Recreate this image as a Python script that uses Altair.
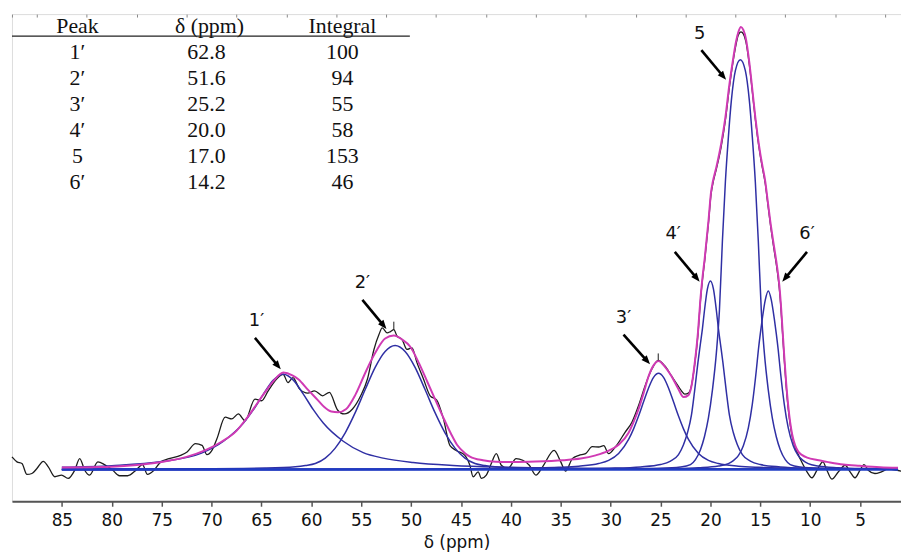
import math
import altair as alt
import pandas as pd

# ---------------- data ----------------
# experimental 13C spectrum (black trace): chemical shift (ppm) / intensity (a.u.)
exp_ppm = [90.0, 89.5, 89.0, 88.5, 88.0, 87.5, 86.86, 86.36, 85.7, 85.03, 84.37, 83.71, 83.21, 82.71,
           82.22, 81.39, 80.73, 79.9, 79.23, 78.41, 77.57, 76.92, 76.42, 75.76, 75.09, 74.26, 73.1,
           72.45, 71.61, 70.95, 70.46, 69.96, 69.46, 68.63, 67.97, 67.31, 66.64, 65.65, 64.99, 64.32,
           63.5, 62.83, 62.34, 61.84, 61.17, 60.35, 59.68, 58.86, 58.19, 57.37, 56.7, 55.87, 55.05,
           54.38, 53.72, 53.22, 52.89, 52.4, 52.07, 51.73, 51.4, 50.9, 50.41, 49.91, 49.41, 48.75,
           48.09, 47.43, 46.76, 46.1, 45.44, 44.61, 44.11, 43.78, 43.28, 42.95, 42.46, 41.96, 41.46,
           40.96, 40.3, 39.47, 38.81, 38.15, 37.49, 36.82, 35.66, 35.0, 34.5, 33.84, 33.18, 32.51,
           31.85, 31.19, 30.69, 30.2, 29.53, 28.54, 27.87, 27.21, 26.55, 25.88, 25.23, 24.56, 23.9,
           23.24, 22.9, 22.57, 22.2, 21.91, 21.6, 21.25, 21.0, 20.8, 20.58, 20.2, 19.93, 19.76, 19.4,
           18.93, 18.5, 18.1, 17.75, 17.44, 17.2, 16.94, 16.7, 16.44, 16.1, 15.78, 15.5, 15.29, 15.0,
           14.79, 14.5, 14.3, 14.0, 13.63, 13.3, 13.1, 12.95, 12.8, 12.6, 12.4, 12.2, 12.0, 11.8,
           11.5, 11.2, 10.97, 10.32, 9.82, 9.32, 8.73, 8.33, 7.83, 7.17, 6.5, 6.0, 5.51, 5.01, 4.61,
           4.18, 3.52, 2.86, 2.2, 1.37, 0.88]
exp_int = [12.7, 7.7, 6, -5, -4, 1, 8.3, 2.7, -7.3, -5.7, -9, -0.7, 11, -0.7,
           -5.7, 7.7, 5, -0.7, -6.3, -6.3, -0.7, 5, -5, -0.7, 7.7, 11, 14.3,
           17.7, 26, 24.3, 15, 19.3, 31, 52.7, 51, 56, 49.3, 71, 69.3, 79.3,
           91, 96, 87.7, 92.7, 81, 77, 79.3, 74.3, 77.7, 60, 56, 61, 74.3,
           91, 121, 136, 142.7, 137.7, 139, 141, 134.3, 131, 121, 122.7, 107.7, 91,
           74.3, 70, 51, 24, 19, 14.3, 4.3, -7.3, -2.3, -9, -5.7, 6, 16,
           4.3, 1, 11, 9.3, 4.3, -5.7, 2.7, 19.3, 7.7, -1.5, 11, 14.3, 16,
           23, 22.7, 24, 16, 22.7, 37.7, 47.7, 64.3, 84.3, 101, 110, 104.3, 94.3,
           84.3, 79.3, 76, 77, 84, 104, 136, 170, 191, 210, 248, 278, 288, 303,
           325, 352, 385, 410, 428, 438, 441, 439, 431, 408, 379, 353, 336, 316,
           304, 288, 272, 248, 222, 200, 183, 165, 142, 111, 83, 61, 45, 33,
           22, 15, 10, -2.3, -8.3, -0.7, 7.7, -0.7, -9.7, -2.3, 4.3, -2.3, -8.3, -0.7, 5,
           -0.7, -4, -2.3, 0.3, -0.7, -1.7]

# deconvolution components (blue)
c1_ppm = [85, 80, 75, 71, 68.8, 66.8, 65.8, 64.8, 63.8, 62.8, 61.8, 60.8, 59.8, 58.8, 56.8,
          54.8, 52.8, 49.8, 45.8, 40.8, 32.8, 17.8, 1.2]
c1_int = [2.3, 3.9, 8.0, 16.5, 28.5, 46.8, 60.3, 76.0, 90.1, 96, 90.1, 76.0, 60.3, 46.8, 28.5,
          17.0, 11.5, 7.0, 4.0, 2.3, 1.3, 0.6, 0.35]

c2_ppm = [85, 71.6, 64.6, 61.6, 60.6, 59.6, 58.6, 57.6, 56.6, 55.6, 54.6, 53.6, 52.6, 51.6,
          50.6, 49.6, 48.6, 47.6, 46.6, 45.6, 44.6, 43.6, 42.6, 41.6, 38.6, 31.6, 1.2]
c2_int = [0.35, 0.7, 1.5, 2.8, 4, 6, 11.5, 21.6, 37, 57.3, 80.6, 103, 119, 125,
          119, 103, 80.6, 57.3, 37, 21.6, 11.5, 6, 4, 2.8, 1.5, 0.7, 0.2]

c3_ppm = [85, 50.2, 40.2, 35.2, 33.2, 31.2, 30.2, 29.2, 28.2, 27.7, 27.2, 26.7, 26.2, 25.7,
          25.2, 24.7, 24.2, 23.7, 23.2, 22.7, 22.2, 21.2, 20.2, 19.2, 17.2, 15.2, 10.2, 1.2]
c3_int = [0.1, 0.4, 1.0, 2.2, 3.4, 6.0, 9.2, 16.2, 30.3, 41, 53.9, 68.2, 82.2, 92.9,
          97, 92.9, 82.2, 68.2, 53.9, 41, 30.3, 16.2, 9.2, 6.0, 3.4, 2.2, 1.0, 0.45]

c4_ppm = [85, 50, 35, 30, 27, 25, 24, 23.2, 22.7, 22.3, 21.9, 21.6, 21.25, 21.0, 20.8, 20.6,
          20.3, 20.0, 19.7, 19.4, 19.2, 19.0, 18.75, 18.4, 18.1, 17.7, 17.3, 16.8, 16.0, 15.0,
          13.0, 10.0, 5.0, 1.2]
c4_int = [0.05, 0.2, 0.6, 1.3, 2.6, 5, 8.5, 15, 25, 37, 55, 78, 108, 127, 142, 160,
          182, 190, 182, 160, 142, 127, 108, 78, 55, 37, 25, 15, 8.5, 5,
          2.6, 1.3, 0.6, 0.45]

c5_ppm = [85, 57, 37, 29, 25, 23, 22, 21.5, 21, 20.6, 20.2, 19.8, 19.4, 19.1, 18.8, 18.5, 18.2,
          17.9, 17.5, 17.0, 16.5, 16.1, 15.8, 15.5, 15.2, 14.9, 14.6, 14.2, 13.8, 13.4, 13.0,
          12.5, 12.0, 11.0, 9.0, 5.0, 1.2]
c5_int = [0.05, 0.1, 0.3, 0.6, 1.2, 2.5, 5, 10, 20, 33, 52, 80, 118, 160, 230, 290, 335,
          372, 402, 413, 402, 372, 335, 290, 230, 160, 118, 80, 52, 33, 20,
          10, 5, 2.5, 1.2, 0.6, 0.4]

c6_ppm = [85, 34.2, 27.2, 24.2, 21.2, 19.2, 18.2, 17.7, 17.2, 16.7, 16.2, 15.8, 15.4, 15.2,
          15.0, 14.8, 14.5, 14.2, 13.9, 13.6, 13.4, 13.2, 13.0, 12.6, 12.2, 11.7, 11.2, 10.7,
          10.2, 9.2, 7.2, 4.2, 1.2]
c6_int = [0.02, 0.24, 0.56, 0.94, 1.9, 3.6, 6, 9, 14, 24, 42, 66, 100, 120,
          137, 152, 171, 180, 171, 152, 137, 120, 100, 66, 42, 24, 14, 9,
          6, 3.6, 1.9, 0.94, 0.56]

# total fitted envelope (magenta)
fit_ppm = [85, 82, 80, 77.5, 75, 72.5, 70.6, 69, 67.5, 66.6, 65.6, 64.65, 63.8, 62.8, 61.9,
           61.3, 60.3, 59.35, 58.7, 58.0, 57.3, 56.5, 55.6, 54.7, 54.0, 53.4, 52.6, 51.73, 50.9,
           50.1, 49.2, 48.4, 47.6, 46.8, 46.0, 45.4, 44.6, 44.1, 42.8, 41.5, 39.8, 37.5, 34.8,
           33, 31.5, 30.3, 29.2, 28.2, 27.7, 27.2, 26.7, 26.2, 25.7, 25.2, 24.6, 23.9, 23.2,
           22.7, 22.2, 21.9, 21.6, 21.25, 21.0, 20.8, 20.58, 20.2, 19.93, 19.76, 19.4, 18.93,
           18.5, 18.1, 17.75, 17.44, 17.2, 16.94, 16.7, 16.44, 16.1, 15.78, 15.5, 15.29, 15.0,
           14.79, 14.5, 14.3, 14.0, 13.63, 13.3, 13.1, 12.95, 12.8, 12.6, 12.4, 12.2, 12.0,
           11.8, 11.5, 11.2, 10.8, 10.3, 9.3, 8.33, 6.7, 5.0, 3.0, 1.2]
fit_int = [2, 2.4, 2.8, 4.5, 7.5, 12.7, 19.5, 28, 39, 50, 64, 77.7, 89, 97.7, 95,
           91, 80, 70, 63, 58.5, 57.7, 61, 75, 95, 110, 121, 132, 135, 131,
           124, 107, 89, 71, 53, 36, 25, 16.5, 13, 9.3, 7.8, 7.5, 8, 9.3,
           11, 14.3, 18.5, 25, 37, 48, 61, 77, 94, 105, 109.3, 104, 94, 81,
           73, 75, 84, 105, 138, 172, 193, 212, 250, 280, 290, 305, 328,
           355, 388, 412, 431, 441, 446, 443, 434, 410, 381, 355, 338, 318,
           306, 290, 274, 250, 225, 203, 186, 168, 145, 114, 86, 64, 47,
           35, 24, 18, 14.5, 12, 9.5, 7.7, 5, 3.7, 2.4, 1.7]

# flat baseline of the deconvolution
base_ppm = [85, 1.2]
base_int = [0, 0]

# peak-pick markers on the experimental trace
pick_ppm = [51.73, 25.23]
pick_lo = [141, 110]
pick_hi = [149, 117]

# peak annotations (label position, arrow start, arrow tip)
ann_text = ["1′", "2′", "3′", "4′", "5", "6′"]
ann_lab_ppm = [65.49, 54.88, 28.71, 23.74, 21.08, 10.32]
ann_lab_int = [149.3, 187.7, 152.7, 237.7, 439.3, 237.7]
ann_st_ppm = [65.65, 54.88, 28.71, 23.57, 20.91, 10.32]
ann_st_int = [132.7, 171, 136, 219.3, 422.7, 219.3]
ann_tip_ppm = [63.06, 52.47, 26.05, 21.08, 18.43, 12.8]
ann_tip_int = [101, 141.7, 106, 189.3, 392.7, 189.3]

# table
tbl_head = ["Peak", "δ (ppm)", "Integral"]
tbl_peak = ["1′", "2′", "3′", "4′", "5", "6′"]
tbl_shift = ["62.8", "51.6", "25.2", "20.0", "17.0", "14.2"]
tbl_integral = ["100", "94", "55", "58", "153", "46"]

x_ticks = [85, 80, 75, 70, 65, 60, 55, 50, 45, 40, 35, 30, 25, 20, 15, 10, 5]
x_minor = [90, 87.5, 82.5, 77.5, 72.5, 67.5, 62.5, 57.5, 52.5, 47.5, 42.5, 37.5, 32.5,
           27.5, 22.5, 17.5, 12.5, 7.5, 2.5]

# ---------------- layout / style ----------------
W, H = 896, 491
X_DOM = [0.9, 90]
Y_DOM = [-32, 459]
xs = alt.Scale(domain=X_DOM, reverse=True, nice=False, zero=False)
ys = alt.Scale(domain=Y_DOM, nice=False, zero=False)
PX_PPM = W / (X_DOM[1] - X_DOM[0])
PX_UNIT = H / (Y_DOM[1] - Y_DOM[0])

BLACK = "#1c1c1c"
BLUE = "#2f2fa4"
BASE_BLUE = "#1f3cc4"
MAGENTA = "#d03ab4"
SANS = "DejaVu Sans"
SERIF = "Times New Roman, Liberation Serif, Times, serif"


def curve(ppm, inten, color, width):
    df = pd.DataFrame({"ppm": ppm, "intensity": inten})
    return alt.Chart(df).mark_line(color=color, strokeWidth=width, interpolate="monotone").encode(
        x=alt.X("ppm:Q", scale=xs, axis=None),
        y=alt.Y("intensity:Q", scale=ys, axis=None),
        order=alt.Order("ppm:Q", sort="descending"),
    )


major_axis = alt.Axis(values=x_ticks, format="d", grid=False, labelFont=SANS, labelFontSize=17,
                      labelColor="#111111", labelPadding=6, labelFlush=False, labelOverlap=False,
                      tickColor="#555555", tickSize=5, tickWidth=1.5,
                      domainColor="#555555", domainWidth=2,
                      title="δ (ppm)", titleFont=SANS, titleFontSize=17, titleFontWeight="normal",
                      titleColor="#111111", titlePadding=7)
minor_axis = alt.Axis(values=x_minor, labels=False, domain=False, grid=False, tickSize=3,
                      tickColor="#888888", tickWidth=1, offset=-3, title=None)

axis_major_layer = alt.Chart(pd.DataFrame({"ppm": x_ticks})).mark_point(opacity=0).encode(
    x=alt.X("ppm:Q", scale=xs, axis=major_axis))
axis_minor_layer = alt.Chart(pd.DataFrame({"ppm": x_minor})).mark_point(opacity=0).encode(
    x=alt.X("ppm:Q", scale=xs, axis=minor_axis))

exp_layer = curve(exp_ppm, exp_int, BLACK, 1.3)
comp_layers = [curve(p, v, BLUE, 1.5) for p, v in
               [(c1_ppm, c1_int), (c2_ppm, c2_int), (c3_ppm, c3_int),
                (c4_ppm, c4_int), (c5_ppm, c5_int), (c6_ppm, c6_int)]]
base_layer = curve(base_ppm, base_int, BASE_BLUE, 2.4)
fit_layer = curve(fit_ppm, fit_int, MAGENTA, 2.0)

pick_df = pd.DataFrame({"ppm": pick_ppm, "lo": pick_lo, "hi": pick_hi})
pick_layer = alt.Chart(pick_df).mark_rule(color=BLACK, strokeWidth=1).encode(
    x=alt.X("ppm:Q", scale=xs, axis=None),
    y=alt.Y("lo:Q", scale=ys, axis=None), y2="hi:Q")

# arrows
rows = []
for t, sp, si, tp, ti in zip(ann_text, ann_st_ppm, ann_st_int, ann_tip_ppm, ann_tip_int):
    dx = -(tp - sp) * PX_PPM
    dy = -(ti - si) * PX_UNIT
    L = math.hypot(dx, dy)
    ux, uy = dx / L, dy / L
    end_p = tp + 6 * ux / PX_PPM
    end_i = ti + 6 * uy / PX_UNIT
    ang = math.degrees(math.atan2(dx, -dy)) % 360
    rows.append({"sp": sp, "si": si, "ep": end_p, "ei": end_i, "tp": tp, "ti": ti, "ang": ang})
arr_df = pd.DataFrame(rows)
shaft_layer = alt.Chart(arr_df).mark_rule(color="black", strokeWidth=2.6).encode(
    x=alt.X("sp:Q", scale=xs, axis=None), y=alt.Y("si:Q", scale=ys, axis=None),
    x2="ep:Q", y2="ei:Q")
head_layer = alt.Chart(arr_df).mark_point(
    shape="M0,0L-0.55,1.4L0.55,1.4Z", filled=True, opacity=1, size=165, color="black",
    strokeWidth=0).encode(
    x=alt.X("tp:Q", scale=xs, axis=None), y=alt.Y("ti:Q", scale=ys, axis=None),
    angle=alt.Angle("ang:Q", scale=None))

lab_df = pd.DataFrame({"t": ann_text, "p": ann_lab_ppm, "i": ann_lab_int})
lab_layer = alt.Chart(lab_df).mark_text(font=SANS, fontSize=18, color="#111111").encode(
    x=alt.X("p:Q", scale=xs, axis=None), y=alt.Y("i:Q", scale=ys, axis=None), text="t:N")

# table (positions are layout, relative to plot area)
tbl_df = pd.DataFrame({"row": list(range(len(tbl_peak))), "peak": tbl_peak,
                       "shift": tbl_shift, "integral": tbl_integral})
col_x = [66, 196, 333]
tbl_layers = []
for cx, field in zip(col_x, ["peak", "shift", "integral"]):
    tbl_layers.append(
        alt.Chart(tbl_df).transform_calculate(ypix="38.7 + datum.row * 26.2").mark_text(
            font=SERIF, fontSize=22, color="#111111", align="center", baseline="middle").encode(
            x=alt.value(cx), y=alt.Y("ypix:Q", scale=None, axis=None), text=f"{field}:N"))
head_df = pd.DataFrame({"h": tbl_head, "hx": [66, 199, 333]})
head_layer_t = alt.Chart(head_df).mark_text(
    font=SERIF, fontSize=22, color="#111111", align="center", baseline="middle").encode(
    x=alt.X("hx:Q", scale=None, axis=None), y=alt.value(12), text="h:N")
rule_layer = alt.Chart(pd.DataFrame({"a": [0]})).mark_rule(color="#222222", strokeWidth=1.2).encode(
    x=alt.value(0), x2=alt.value(401), y=alt.value(22.3))

chart = alt.layer(
    axis_major_layer, axis_minor_layer,
    exp_layer, *comp_layers, base_layer, fit_layer, pick_layer,
    shaft_layer, head_layer, lab_layer,
    *tbl_layers, head_layer_t, rule_layer,
).resolve_axis(x="independent").properties(
    width=W, height=H,
    padding={"left": 4, "top": 4, "right": 0, "bottom": 50},
    autosize=alt.AutoSizeParams(type="none"),
).configure_view(stroke=None).configure(background="white")

chart.save("out.html", embed_options={"renderer": "svg", "actions": False})
